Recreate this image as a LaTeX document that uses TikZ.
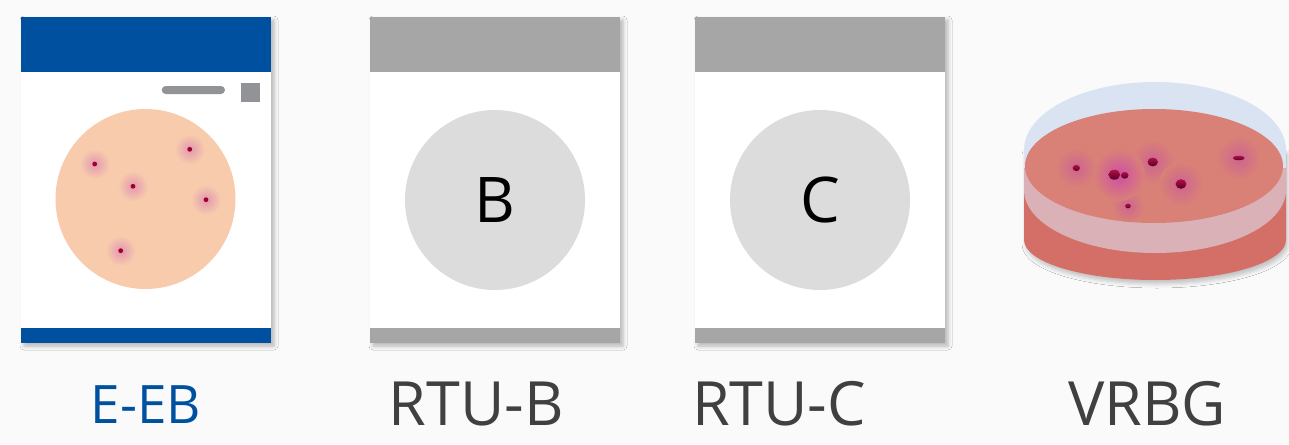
\documentclass[tikz,border=0pt]{standalone}
\usepackage{fontspec}
\setmainfont{Open Sans}
\usetikzlibrary{shadows.blur}

\definecolor{bg}{HTML}{FAFAFA}
\definecolor{eblue}{HTML}{0050A0}
\definecolor{bargray}{HTML}{A6A6A6}
\definecolor{plategray}{HTML}{DCDCDC}
\definecolor{peach}{HTML}{F7CBAC}
\definecolor{pillgray}{HTML}{929396}
\definecolor{dotred}{HTML}{A00030}
\definecolor{halo}{HTML}{E397B0}
\definecolor{lidblue}{HTML}{DAE3F2}
\definecolor{agar}{HTML}{D98177}
\definecolor{band}{HTML}{D9B1B7}
\definecolor{base}{HTML}{D36F67}
\definecolor{dishhalo}{HTML}{C9579A}
\definecolor{colonytop}{HTML}{B01048}
\definecolor{colonybot}{HTML}{5A0022}
\definecolor{labelgray}{HTML}{404040}

\begin{document}
\begin{tikzpicture}[x=1pt,y=-1pt,
  card/.style={draw=none, fill=white, minimum width=250pt, minimum height=326pt,
    inner sep=0pt, outer sep=0pt,
    blur shadow={shadow xshift=3pt, shadow yshift=-3pt, shadow blur radius=4pt, shadow opacity=28}},
  plate/.style={circle, minimum size=180pt, inner sep=0pt, outer sep=0pt},
  letter/.style={font=\fontsize{63}{70}\selectfont, text=black},
  caption/.style={anchor=base, font=\fontsize{61}{70}\selectfont, text=labelgray},
  colony/.style={top color=colonytop, bottom color=colonybot}]

\useasboundingbox[fill=bg] (0,0) rectangle (1289,444);

% ---- E-EB card ----
\node[card] (c1) at (146,180) {};
\fill[eblue] (c1.north west) rectangle ([yshift=-55pt]c1.north east);
\fill[eblue] ([yshift=15pt]c1.south west) rectangle (c1.south east);
\fill[pillgray, rounded corners=4pt] (161.7,86) rectangle (225,94);
\fill[pillgray] (241,83) rectangle (260,102);
\node[plate, fill=peach] (d1) at (145.5,199) {};
\foreach \x/\y in {94.7/164, 189.7/149.3, 133/186.3, 206/199.7, 120.7/250.7} {
  \shade[inner color=halo, outer color=peach] (\x,\y) circle[radius=15];
  \fill[dotred] (\x,\y) circle[radius=2.4];
}

% ---- RTU-B card ----
\node[card] (c2) at (495,180) {};
\fill[bargray] (c2.north west) rectangle ([yshift=-55pt]c2.north east);
\fill[bargray] ([yshift=15pt]c2.south west) rectangle (c2.south east);
\node[plate, fill=plategray, letter] (d2) at (495,200) {B};

% ---- RTU-C card ----
\node[card] (c3) at (820,180) {};
\fill[bargray] (c3.north west) rectangle ([yshift=-55pt]c3.north east);
\fill[bargray] ([yshift=15pt]c3.south west) rectangle (c3.south east);
\node[plate, fill=plategray, letter] (d3) at (820,200) {C};

% ---- VRBG petri dish ----
% dish body
\fill[base, blur shadow={shadow xshift=2pt, shadow yshift=-4pt, shadow blur radius=4pt, shadow opacity=22}]
  (1024,150) -- (1024,240) arc[start angle=180, end angle=0, x radius=131, y radius=40]
  -- (1286,150) -- cycle;
% lid top
\fill[lidblue] (1155,150) ellipse[x radius=131, y radius=68];
\fill[lidblue] (1024,150) rectangle (1286,168);
% lid rim seen over the dish
\fill[band] (1024,168) -- (1024,190) arc[start angle=180, end angle=0, x radius=131, y radius=63]
  -- (1286,168) -- cycle;
% agar surface
\fill[agar] (1154,166) ellipse[x radius=129, y radius=57];
% colonies with their halos
\foreach \x/\y/\rx/\ry/\h in {1076.3/168/3.6/3.1/10, 1128/206/2.8/2.4/8,
    1152.7/162/5.2/4.4/11, 1181/184/5.4/4.8/11, 1238.7/158/6/2.2/11} {
  \shade[inner color=dishhalo!70!agar, outer color=agar] (\x,\y) circle[radius=2*\h];
  \shade[colony] (\x,\y) ellipse[x radius=\rx, y radius=\ry];
}
\shade[inner color=dishhalo!90!magenta, outer color=agar] (1119,175) circle[radius=26];
\shade[colony] (1114.3,174.7) ellipse[x radius=5.8, y radius=5];
\shade[colony] (1124.7,175.3) ellipse[x radius=3.8, y radius=3.4];

% ---- captions ----
\node[caption, font=\fontsize{53}{60}\selectfont, text=eblue] (t1) at (146,423) {E-EB};
\node[caption] (t2) at (476.5,425) {RTU-B};
\node[caption] (t3) at (779,425) {RTU-C};
\node[caption] (t4) at (1147,425) {VRBG};
\end{tikzpicture}
\end{document}
